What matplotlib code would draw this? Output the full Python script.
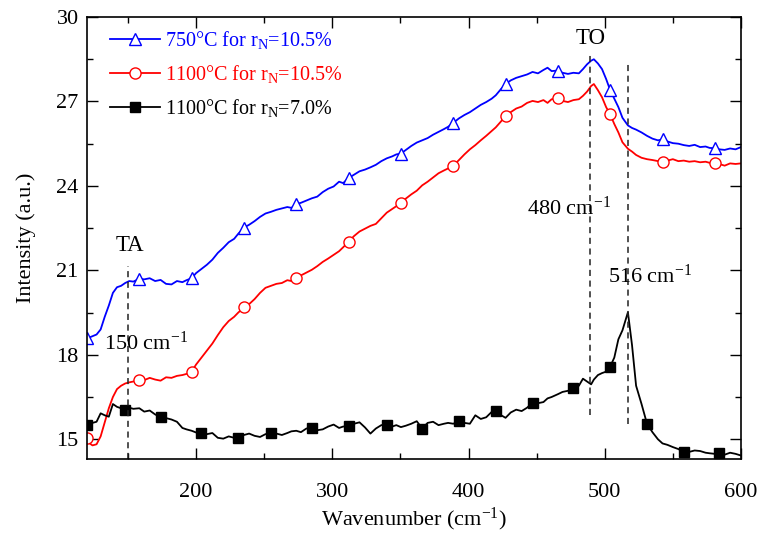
import numpy as np
import matplotlib
matplotlib.use("Agg")
import matplotlib.pyplot as plt
from matplotlib.ticker import MultipleLocator

plt.rcParams['font.family'] = 'Liberation Serif'
plt.rcParams['mathtext.fontset'] = 'custom'
plt.rcParams['mathtext.rm'] = 'Liberation Serif'
plt.rcParams['mathtext.it'] = 'Liberation Serif:italic'

# wavenumber grid (cm^-1), shared by the three spectra
wavenumber = [120, 122, 124, 127, 130, 133, 136, 139, 142, 145, 148, 151, 154, 158.4, 162, 166,
              170, 174, 178, 182, 186, 190, 193, 196.8, 200, 204, 208, 212, 216, 220, 224, 228,
              231, 235.2, 239, 243, 247, 251, 255, 259, 263, 267, 270, 273.6, 277, 281, 285, 289,
              293, 297, 301, 305, 308, 312, 316, 320, 324, 328, 332, 336, 340, 344, 347, 350.4,
              354, 358, 362, 366, 370, 374, 378, 382, 385, 388.8, 393, 397, 401, 405, 409, 413,
              417, 420, 424, 427.2, 431, 435, 439, 443, 447, 451, 455, 458, 461, 465.6, 469, 473,
              477, 481, 484, 487, 490, 492, 495, 498, 501, 504, 507, 510, 513, 517, 520, 523,
              527, 531, 535, 539, 542.4, 546, 550, 554, 558, 562, 566, 570, 574, 577, 580.8, 584,
              588, 592, 596, 600]

int_750_105 = [18.60, 18.62, 18.66, 18.72, 18.90, 19.35, 19.75, 20.20, 20.40, 20.45, 20.55, 20.62,
               20.60, 20.70, 20.68, 20.72, 20.62, 20.66, 20.52, 20.50, 20.62, 20.58, 20.65, 20.72,
               20.90, 21.05, 21.20, 21.38, 21.62, 21.80, 22.00, 22.12, 22.30, 22.52, 22.62, 22.75,
               22.90, 23.02, 23.08, 23.15, 23.20, 23.25, 23.22, 23.35, 23.40, 23.48, 23.56, 23.62,
               23.78, 23.90, 23.98, 24.15, 24.10, 24.28, 24.40, 24.52, 24.58, 24.66, 24.75, 24.88,
               24.98, 25.05, 25.12, 25.15, 25.28, 25.42, 25.54, 25.62, 25.70, 25.82, 25.92, 26.02,
               26.10, 26.24, 26.40, 26.52, 26.62, 26.75, 26.88, 26.98, 27.10, 27.22, 27.45, 27.62,
               27.75, 27.84, 27.90, 27.96, 28.05, 28.00, 28.12, 28.20, 28.08, 28.10, 28.02, 27.98,
               28.02, 28.00, 28.15, 28.32, 28.45, 28.50, 28.35, 28.15, 27.80, 27.40, 27.10, 26.80,
               26.42, 26.15, 26.06, 26.00, 25.90, 25.78, 25.68, 25.62, 25.65, 25.58, 25.52, 25.50,
               25.45, 25.42, 25.46, 25.38, 25.40, 25.35, 25.34, 25.30, 25.28, 25.33, 25.30, 25.38]

int_1100_105 = [15.05, 14.85, 14.78, 14.82, 15.10, 15.60, 16.10, 16.50, 16.78, 16.90, 16.98, 17.02,
                17.05, 17.12, 17.10, 17.18, 17.12, 17.08, 17.20, 17.18, 17.25, 17.28, 17.32, 17.40,
                17.65, 17.90, 18.15, 18.40, 18.70, 18.98, 19.20, 19.35, 19.50, 19.68, 19.80, 19.98,
                20.20, 20.38, 20.45, 20.52, 20.55, 20.65, 20.62, 20.73, 20.82, 20.92, 21.02, 21.15,
                21.30, 21.42, 21.55, 21.68, 21.82, 22.02, 22.22, 22.38, 22.48, 22.58, 22.65, 22.85,
                23.05, 23.18, 23.28, 23.39, 23.55, 23.70, 23.83, 24.02, 24.15, 24.30, 24.45, 24.55,
                24.62, 24.72, 24.92, 25.12, 25.30, 25.45, 25.62, 25.78, 25.95, 26.08, 26.30, 26.50,
                26.62, 26.75, 26.82, 26.95, 27.02, 26.98, 27.05, 26.95, 27.08, 27.11, 27.02, 26.98,
                27.05, 27.08, 27.20, 27.35, 27.55, 27.62, 27.40, 27.15, 26.80, 26.54, 26.20, 25.90,
                25.55, 25.32, 25.22, 25.10, 25.00, 24.95, 24.92, 24.88, 24.85, 24.90, 24.95, 24.88,
                24.90, 24.86, 24.88, 24.84, 24.86, 24.82, 24.80, 24.78, 24.72, 24.80, 24.78, 24.80]

int_1100_70 = [15.50, 15.55, 15.58, 15.62, 15.92, 15.85, 15.80, 16.25, 16.15, 16.10, 16.05, 16.12,
               16.08, 16.10, 15.98, 16.02, 15.88, 15.78, 15.75, 15.70, 15.62, 15.40, 15.35, 15.30,
               15.24, 15.22, 15.18, 15.22, 15.05, 15.02, 15.10, 15.05, 15.03, 15.15, 15.20, 15.12,
               15.08, 15.18, 15.22, 15.20, 15.15, 15.22, 15.28, 15.30, 15.25, 15.38, 15.40, 15.32,
               15.35, 15.45, 15.52, 15.40, 15.45, 15.46, 15.55, 15.60, 15.42, 15.20, 15.38, 15.50,
               15.52, 15.45, 15.50, 15.43, 15.48, 15.55, 15.64, 15.38, 15.58, 15.62, 15.50, 15.55,
               15.58, 15.55, 15.64, 15.58, 15.55, 15.85, 15.72, 15.78, 15.97, 16.00, 15.85, 15.76,
               15.95, 16.05, 16.00, 16.12, 16.30, 16.28, 16.32, 16.45, 16.50, 16.60, 16.68, 16.72,
               16.81, 16.90, 17.15, 17.05, 16.95, 17.12, 17.28, 17.35, 17.40, 17.58, 17.90, 18.55,
               18.87, 19.51, 18.35, 16.90, 16.25, 15.55, 15.25, 15.00, 14.85, 14.80, 14.72, 14.65,
               14.55, 14.55, 14.60, 14.58, 14.52, 14.50, 14.48, 14.50, 14.45, 14.52, 14.48, 14.42]

# marker positions along the curves
open_marks = [120, 158.4, 196.8, 235.2, 273.6, 312, 350.4, 388.8, 427.2, 465.6, 504, 542.4, 580.8]
square_marks = [120, 147.4, 174.8, 202.2, 229.6, 257, 284.4, 311.8, 339.2, 366.6, 394, 421.4,
                448.8, 476.2, 503.6, 531, 558.4, 585.8]

labels = ['750\u00b0C for r$_\\mathregular{N}$=10.5%',
          '1100\u00b0C for r$_\\mathregular{N}$=10.5%',
          '1100\u00b0C for r$_\\mathregular{N}$=7.0%']

# guide lines: position, y from, y to
guide_x = [150, 489, 517]
guide_y0 = [14.3, 15.85, 15.53]
guide_y1 = [21.15, 28.72, 28.37]

x = np.array(wavenumber)
idx_open = [int(np.argmin(np.abs(x - m))) for m in open_marks]
idx_sq = [int(np.argmin(np.abs(x - m))) for m in square_marks]

fig = plt.figure(figsize=(7.6, 5.33), dpi=100)
ax = fig.add_axes([0.1145, 0.139, 0.8605, 0.829])

ax.plot(x, int_750_105, color='blue', lw=1.3, marker='^', ms=8, mfc='white', mec='blue',
        mew=1.0, markevery=idx_open, label=labels[0])
ax.plot(x, int_1100_105, color='red', lw=1.3, marker='o', ms=8, mfc='white', mec='red',
        mew=1.0, markevery=idx_open, label=labels[1])
ax.plot(x, int_1100_70, color='black', lw=1.3, marker='s', ms=6.5, mfc='black', mec='black',
        markevery=idx_sq, label=labels[2])

for gx, a, b in zip(guide_x, guide_y0, guide_y1):
    ax.plot([gx, gx], [a, b], color='#222222', lw=1.1, ls=(0, (4, 3)))

sup = '$^\\mathregular{-1}$'
ax.text(151.5, 21.9, 'TA', fontsize=16.5, ha='center', va='center')
ax.text(163, 18.4, '150 cm' + sup, fontsize=16, ha='center', va='center')
ax.text(490, 29.25, 'TO', fontsize=16.5, ha='center', va='center')
ax.text(474, 23.2, '480 cm' + sup, fontsize=16, ha='center', va='center')
ax.text(533, 20.8, '516 cm' + sup, fontsize=16, ha='center', va='center')

ax.set_xlim(120, 600)
ax.set_ylim(14.3, 30)
ax.xaxis.set_major_locator(MultipleLocator(100))
ax.xaxis.set_minor_locator(MultipleLocator(50))
ax.yaxis.set_major_locator(MultipleLocator(3))
ax.yaxis.set_minor_locator(MultipleLocator(1.5))
ax.tick_params(which='both', direction='in', top=True, right=True, labelsize=16, width=1.0)
ax.tick_params(which='major', length=8)
ax.tick_params(which='minor', length=4)
ax.tick_params(axis='x', which='major', pad=17)
ax.tick_params(axis='y', which='major', pad=6)
for s in ax.spines.values():
    s.set_linewidth(1.2)

ax.set_xlabel('Wavenumber (cm' + sup + ')', fontsize=16, labelpad=3)
ax.set_ylabel('Intensity (a.u.)', fontsize=16, labelpad=15)

ax.legend(loc='upper left', bbox_to_anchor=(0.013, 1.005), frameon=False, fontsize=14.5,
          handlelength=2.5, handletextpad=0.25, labelspacing=0.6, labelcolor='linecolor',
          borderaxespad=0.3)

fig.savefig('out.png', dpi=100)
